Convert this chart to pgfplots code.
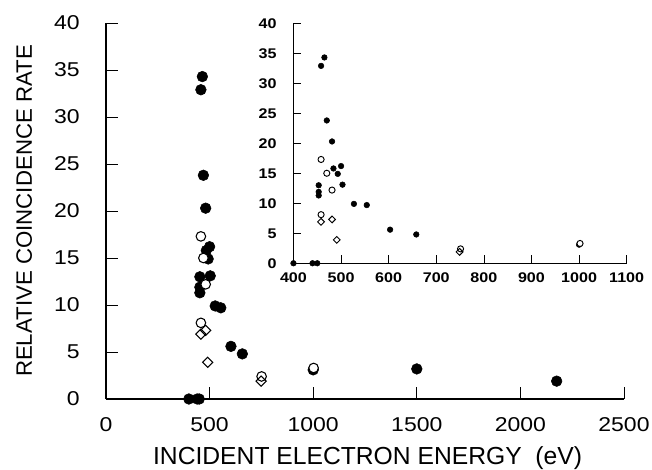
\documentclass[border=0pt]{standalone}
\usepackage{fontspec}
\setmainfont{Liberation Sans}
\newfontfamily\tickfont[FakeStretch=1.15]{Liberation Sans}
\usepackage{pgfplots}
\pgfplotsset{compat=1.18}
\usepackage{pgfplotstable}

% filled circles
\pgfplotstableread{
x y
400 0
440 0
450 0
458 32.9
465 34.3
470 23.8
481 20.3
484 15.8
500 16.2
493 14.9
453 13.0
453 11.9
453 11.3
503 13.1
527 9.9
554 9.7
603 5.6
658 4.8
1000 3.1
1500 3.2
2175 1.9
}\filled

% open circles
\pgfplotstableread{
x y
458 17.3
470 15.0
481 12.2
458 8.1
751 2.4
1002 3.3
}\open

% diamonds
\pgfplotstableread{
x y
458 6.9
481 7.3
491 3.9
749 1.9
}\diam

\begin{document}
\begin{tikzpicture}
\begin{axis}[
    at={(0pt,0pt)}, anchor=south west,
    scale only axis, width=388.5pt, height=282pt,
    xmin=0, xmax=2500, ymin=0, ymax=40,
    axis lines=left,
    axis line style={-, line width=0.8pt},
    tick align=inside, major tick length=9pt,
    tick style={black, line width=0.6pt},
    xtick={0,500,...,2500}, ytick={0,5,...,40},
    /pgf/number format/assume math mode=true,
    /pgf/number format/1000 sep={},
    ticklabel style={font=\tickfont\fontsize{15}{18}\selectfont},
    xticklabel style={inner sep=0pt, anchor=north, yshift=-14pt},
    yticklabel style={inner sep=0pt, anchor=east, xshift=-19.5pt},
    xlabel={INCIDENT ELECTRON ENERGY\ \ (eV)},
    ylabel={RELATIVE COINCIDENCE RATE},
    xlabel style={font=\fontsize{18.5}{22}\selectfont, at={(axis description cs:0.505,-0.156)}, anchor=center},
    ylabel style={font=\fontsize{16.7}{20}\selectfont, at={(axis description cs:-0.158,0.5)}, anchor=center},
    clip=false,
]
\addplot[only marks, mark=*, mark size=4pt, black] table {\filled};
\addplot[only marks, mark=*, mark size=3.6pt, mark options={fill=white, draw=black, line width=0.8pt}] table {\open};
\addplot[only marks, mark=square, mark size=2.7pt, mark options={rotate=45, draw=black, line width=0.8pt}] table {\diam};
\end{axis}

\begin{axis}[
    at={(140.6pt,101.8pt)}, anchor=south west,
    scale only axis, width=249.9pt, height=180pt,
    xmin=400, xmax=1100, ymin=0, ymax=40,
    axis lines=left,
    axis line style={-, line width=0.7pt},
    tick align=inside, major tick length=6pt,
    tick style={black, line width=0.5pt},
    xtick={400,500,...,1100}, ytick={0,5,...,40},
    /pgf/number format/assume math mode=true,
    /pgf/number format/1000 sep={},
    ticklabel style={font=\tickfont\bfseries\fontsize{10.5}{12}\selectfont},
    xticklabel style={inner sep=0pt, anchor=north, yshift=-7pt},
    yticklabel style={inner sep=0pt, anchor=east, xshift=-12.5pt},
    restrict x to domain=390:1110,
    clip=false,
]
\addplot[only marks, mark=*, mark size=2.1pt, black] table {\filled};
\addplot[only marks, mark=*, mark size=2.3pt, mark options={fill=white, draw=black, line width=0.7pt}] table {\open};
\addplot[only marks, mark=square, mark size=1.8pt, mark options={rotate=45, draw=black, line width=0.7pt}] table {\diam};
\end{axis}
\pgfresetboundingbox
\path (-79.5pt,-53.25pt) rectangle (409.5pt,299.25pt);
\end{tikzpicture}
\end{document}
